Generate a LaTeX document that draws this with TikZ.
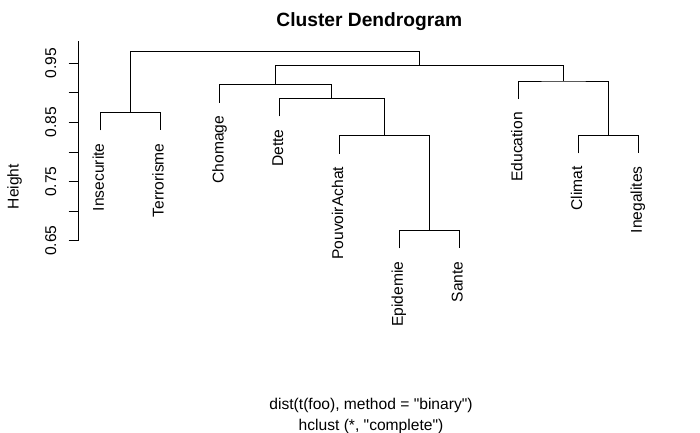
\documentclass[tikz,border=0pt]{standalone}
\usepackage{fontspec}
\setmainfont{Liberation Sans}
% same face without TeX ligatures, so that " stays a straight quote
\newfontfamily\plainfont{Liberation Sans}
\begin{document}
\begin{tikzpicture}[x=1pt, y=-1pt,
  branch/.style={line width=1pt, line join=miter},
  axisline/.style={line width=1pt},
  basefont/.style={font=\fontsize{15.6}{18}\selectfont},
  leaflabel/.style={basefont, rotate=90, anchor=mid east, inner sep=0pt},
  ticklabel/.style={basefont, rotate=90, anchor=base, inner sep=0pt},
  titlefont/.style={font=\bfseries\fontsize{19.2}{22}\selectfont, anchor=base, inner sep=0pt},
  subtext/.style={font=\plainfont\fontsize{15.6}{18}\selectfont, anchor=base, inner sep=0pt}]
\useasboundingbox (0,0) rectangle (700,432);

% leaf ends (bottom of each leaf segment)
\coordinate (insecurite)   at (100.3,130.3);
\coordinate (terrorisme)   at (160.1,130.3);
\coordinate (chomage)      at (219.9,102.7);
\coordinate (dette)        at (279.6,116.3);
\coordinate (pouvoirachat) at (339.4,153.7);
\coordinate (epidemie)     at (399.2,248.3);
\coordinate (sante)        at (459.0,248.3);
\coordinate (education)    at (518.8,99.0);
\coordinate (climat)       at (578.5,153.3);
\coordinate (inegalites)   at (638.3,153.3);

% merge points
\coordinate (mIT)  at (130.2,112.3);
\coordinate (mES)  at (429.1,230.3);
\coordinate (mPES) at (384.2,135.7);
\coordinate (mD)   at (331.9,98.3);
\coordinate (mC)   at (275.9,84.7);
\coordinate (mCI)  at (608.4,135.3);
\coordinate (mE)   at (563.6,81.0);
\coordinate (mA)   at (419.7,65.7);
\coordinate (root) at (275.0,51.7);

% branches
\draw[branch] (insecurite) |- (mIT) -| (terrorisme);
\draw[branch] (epidemie) |- (mES) -| (sante);
\draw[branch] (pouvoirachat) |- (mPES) -| (mES);
\draw[branch] (dette) |- (mD) -| (mPES);
\draw[branch] (chomage) |- (mC) -| (mD);
\draw[branch] (climat) |- (mCI) -| (inegalites);
\draw[branch] (education) |- (mE) -| (mCI);
\draw[branch] (mC) |- (mA) -| (mE);
\draw[branch] (mIT) |- (root) -| (mA);

% leaf labels
\foreach \leaf/\txt in {insecurite/Insecurite, terrorisme/Terrorisme, chomage/Chomage,
    dette/Dette, pouvoirachat/PouvoirAchat, epidemie/Epidemie, sante/Sante,
    education/Education, climat/Climat, inegalites/Inegalites}
  \node[leaflabel] (lab-\leaf) at ([shift={(1,13)}]\leaf) {\txt};

% height axis
\draw[axisline] (78.3,240.7) -- (78.3,40.7);
\foreach \i in {0,...,6}
  \draw[axisline] (68.7,63.3+\i*29.57) -- (78.3,63.3+\i*29.57);
\foreach \i/\v in {0/0.95, 2/0.85, 4/0.75, 6/0.65}
  \node[ticklabel] (tick-\i) at (56,63.3+\i*29.57) {\v};
\node[ticklabel] (ylab) at (18.7,186.7) {Height};

% title and subtitle
\node[titlefont] (title) at (369.3,26.7) {Cluster Dendrogram};
\node[subtext] (sub1) at (371,409) {dist(t(foo), method = "binary")};
\node[subtext] (sub2) at (371,430) {hclust (*, "complete")};
\end{tikzpicture}
\end{document}
